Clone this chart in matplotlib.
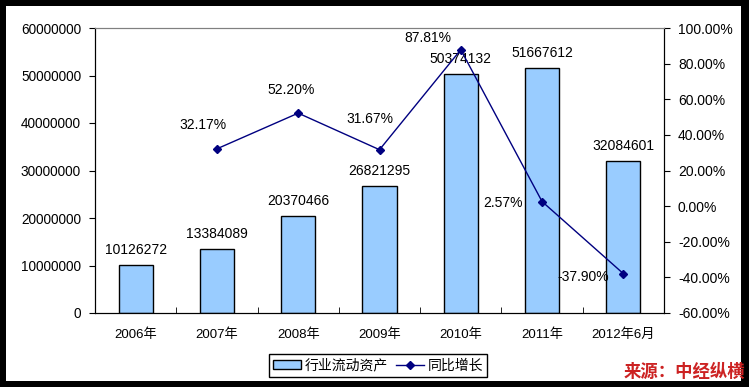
import matplotlib.pyplot as plt
import matplotlib.ticker as mticker
from matplotlib.patches import Rectangle
import numpy as np

plt.rcParams['font.family'] = ['Liberation Sans', 'Noto Sans CJK SC']
plt.rcParams['font.size'] = 9.5

years = ['2006年', '2007年', '2008年', '2009年', '2010年', '2011年', '2012年6月']
assets = [10126272, 13384089, 20370466, 26821295, 50374132, 51667612, 32084601]
growth_years = [1, 2, 3, 4, 5, 6]
growth = [0.3217, 0.5220, 0.3167, 0.8781, 0.0257, -0.3790]
growth_labels = ['32.17%', '52.20%', '31.67%', '87.81%', '2.57%', '-37.90%']
# label offsets in pixels
label_off = [(-14, 24), (-7, 23), (-10, 31), (-33, 12), (-39, -1), (-40, -3)]

fig = plt.figure(figsize=(7.49, 3.87), dpi=100, facecolor='black')
fig.patches.append(Rectangle((6 / 749, 6 / 387), 735 / 749, 375 / 387,
                             transform=fig.transFigure, facecolor='white',
                             edgecolor='none', zorder=-10))

ax = fig.add_axes([95 / 749, 74 / 387, 569 / 749, 285 / 387])
ax.patch.set_alpha(0)
x = np.arange(len(years))
bars = ax.bar(x, assets, width=0.42, color='#99CCFF', edgecolor='black',
              linewidth=1, label='行业流动资产', zorder=2)
for xi, v in zip(x, assets):
    ax.annotate(str(v), (xi, v), xytext=(0, 15), textcoords='offset pixels',
                ha='center', va='center', fontsize=10)

ax.set_xlim(-0.5, len(years) - 0.5)
ax.set_ylim(0, 60000000)
ax.yaxis.set_major_locator(mticker.MultipleLocator(10000000))
ax.yaxis.set_major_formatter(mticker.FuncFormatter(lambda v, p: f'{int(v)}'))
ax.set_xticks(x)
ax.set_xticklabels(years)
ax.set_xticks(np.arange(-0.5, len(years)), minor=True)
ax.tick_params(axis='x', which='major', length=0, pad=11)
ax.tick_params(axis='x', which='minor', direction='in', length=4, color='black')
ax.tick_params(axis='y', length=4, pad=6, labelsize=9.8)
ax.spines['top'].set_color('#808080')
for s in ['left', 'bottom', 'right']:
    ax.spines[s].set_color('black')

ax2 = ax.twinx()
line, = ax2.plot(growth_years, growth, color='#000080', linewidth=1,
                 marker='D', markersize=4.5, label='同比增长', zorder=3)
for xi, v, t, (dx, dy) in zip(growth_years, growth, growth_labels, label_off):
    ax2.annotate(t, (xi, v), xytext=(dx, dy), textcoords='offset pixels',
                 ha='center', va='center', fontsize=10)
ax2.set_ylim(-0.6, 1.0)
ax2.yaxis.set_major_locator(mticker.MultipleLocator(0.2))
ax2.yaxis.set_major_formatter(mticker.FuncFormatter(lambda v, p: f'{v * 100:.2f}%'))
ax2.tick_params(axis='y', length=4, pad=6, labelsize=10)
ax2.spines['top'].set_color('#808080')
ax2.spines['right'].set_color('black')

leg = fig.legend([bars, line], ['行业流动资产', '同比增长'], ncol=2,
                 loc='center', bbox_to_anchor=(378 / 749, 1 - 365.5 / 387),
                 fancybox=False, edgecolor='black', framealpha=1,
                 handlelength=2.0, handleheight=0.55, handletextpad=0.25,
                 columnspacing=0.6, borderpad=0.3, fontsize=10)
leg.get_frame().set_linewidth(1)

fig.text(684 / 749, 1 - 372 / 387, '来源：中经纵横', color='#CC2222',
         fontweight='bold', fontstyle='italic', fontsize=12.5,
         ha='center', va='center', family=['Noto Sans CJK SC'])

fig.savefig('out.png', dpi=100, facecolor=fig.get_facecolor())
